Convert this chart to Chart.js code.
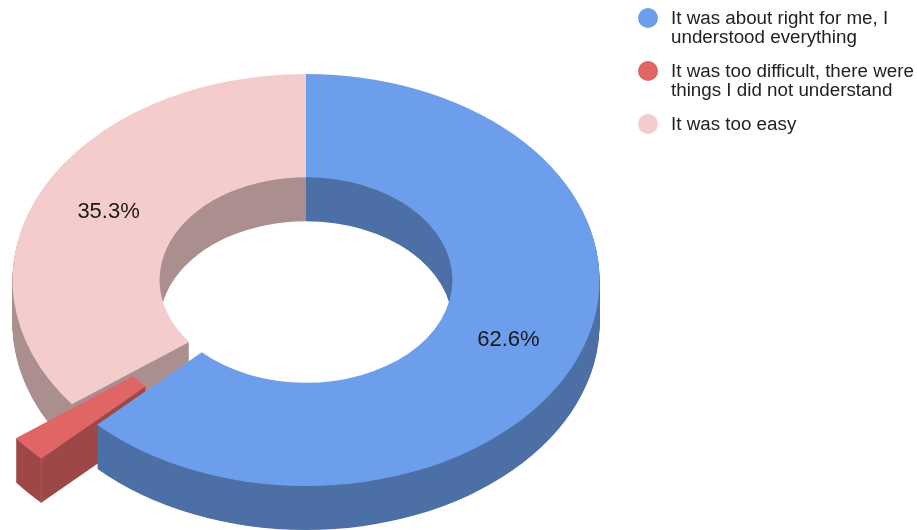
<!DOCTYPE html>
<html>
<head>
<meta charset="utf-8">
<title>Difficulty</title>
<script src="https://cdn.jsdelivr.net/npm/chart.js@4"></script>
<style>
    html, body { margin: 0; padding: 0; background: #fff; }
    #wrap { position: relative; width: 917px; height: 530px; overflow: hidden; }
    #legend {
        position: absolute; left: 638px; top: 8px; width: 279px;
        margin: 0; padding: 0; list-style: none;
        font: 18.8px/19px "Liberation Sans", Arial, sans-serif; color: #222;
    }
    #legend li { position: relative; padding-left: 33px; margin-bottom: 15px; }
    #legend i {
        position: absolute; left: 0; top: 0; width: 20px; height: 20px; border-radius: 50%;
    }
</style>
</head>
<body>
<div id="wrap">
    <canvas id="donut" width="917" height="530"></canvas>
    <ul id="legend"></ul>
</div>
<script>
const categories = [
    'It was about right for me, I understood everything',
    'It was too difficult, there were things I did not understand',
    'It was too easy'
];
const shares = [62.6, 2.1, 35.3];
const sliceColors = ['#6d9eeb', '#e06666', '#f4cccc'];
const wallColors = ['#4c6fa5', '#9d4747', '#ab8f8f'];

// tilt of the ring
const centerX = 306;
const centerY = 280;
const squash = 206 / 293.5;
const depth = 44;
const pulledOut = 1;     // index of the slice pulled away from the ring
const pullDistance = 74;

function pullFor(arc, i) {
    const mid = (arc.startAngle + arc.endAngle) / 2;
    const pull = i === pulledOut ? pullDistance : 0;
    return { x: Math.cos(mid) * pull, y: Math.sin(mid) * pull };
}

function drawSlice(ctx, arc, i, lift, color) {
    const shift = pullFor(arc, i);
    const copy = Object.create(arc);
    copy.options = Object.assign({}, arc.options, { backgroundColor: color, borderWidth: 0 });

    ctx.save();
    ctx.translate(centerX, centerY + lift);
    ctx.scale(1, squash);
    ctx.translate(shift.x - arc.x, shift.y - arc.y);
    copy.draw(ctx);
    ctx.restore();
}

// stack the slice on a spare canvas, then flood it so the wall is one flat colour
function drawWall(ctx, arc, i) {
    const spare = document.createElement('canvas');
    spare.width = ctx.canvas.width;
    spare.height = ctx.canvas.height;
    const sctx = spare.getContext('2d');
    for (let lift = depth; lift > 0; lift--) {
        drawSlice(sctx, arc, i, lift, wallColors[i]);
    }
    sctx.globalCompositeOperation = 'source-in';
    sctx.fillStyle = wallColors[i];
    sctx.fillRect(0, 0, spare.width, spare.height);
    ctx.drawImage(spare, 0, 0);
}

const tiltedRing = {
    id: 'tiltedRing',
    beforeDatasetDraw(chart) {
        const ctx = chart.ctx;
        const arcs = chart.getDatasetMeta(0).data;

        // back to front: pale slice, pulled out slice, then the big one
        [2, 1, 0].forEach(i => {
            drawWall(ctx, arcs[i], i);
            drawSlice(ctx, arcs[i], i, 0, sliceColors[i]);
        });

        // faint edge where the two walls of the pulled out slice meet
        const red = arcs[pulledOut];
        const shift = pullFor(red, pulledOut);
        const edgeX = centerX + shift.x + Math.cos(red.startAngle) * red.outerRadius;
        const edgeY = centerY + (shift.y + Math.sin(red.startAngle) * red.outerRadius) * squash;
        ctx.save();
        ctx.strokeStyle = '#ad5858';
        ctx.lineWidth = 1;
        ctx.beginPath();
        ctx.moveTo(edgeX, edgeY);
        ctx.lineTo(edgeX, edgeY + depth);
        ctx.stroke();
        ctx.restore();

        ctx.save();
        ctx.fillStyle = '#1a1a1a';
        ctx.font = '22px "Liberation Sans", Arial, sans-serif';
        ctx.textAlign = 'center';
        ctx.textBaseline = 'middle';
        arcs.forEach((arc, i) => {
            if (shares[i] < 5) return;
            const c = arc.getCenterPoint();
            ctx.fillText(shares[i].toFixed(1) + '%', centerX - 0.5 + c.x - arc.x, centerY + 0.5 + (c.y - arc.y) * squash);
        });
        ctx.restore();
        return false;
    }
};

new Chart(document.getElementById('donut'), {
    type: 'doughnut',
    data: {
        labels: categories,
        datasets: [{ data: shares, backgroundColor: sliceColors, borderWidth: 0 }]
    },
    options: {
        responsive: false,
        animation: false,
        radius: 293.5,
        cutout: '49.9%',
        plugins: { legend: { display: false }, tooltip: { enabled: false } }
    },
    plugins: [tiltedRing]
});

const legend = document.getElementById('legend');
categories.forEach((name, i) => {
    const row = document.createElement('li');
    const dot = document.createElement('i');
    dot.style.background = sliceColors[i];
    row.appendChild(dot);
    row.appendChild(document.createTextNode(name));
    legend.appendChild(row);
});
</script>
</body>
</html>
